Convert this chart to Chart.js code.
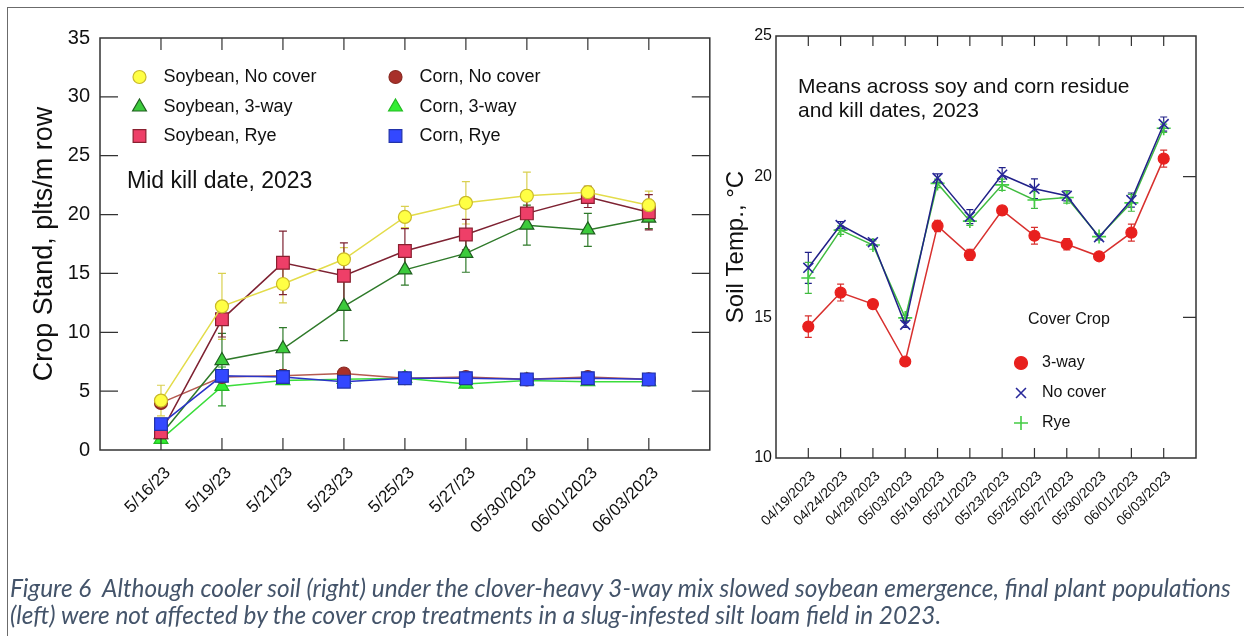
<!DOCTYPE html>
<html>
<head>
<meta charset="utf-8">
<script src="https://cdn.jsdelivr.net/npm/chart.js@4.4.1/dist/chart.umd.min.js"></script>
<style>
  html, body { margin: 0; padding: 0; background: #fff; }
  body { width: 1244px; height: 636px; position: relative; overflow: hidden; }
  #box { position: absolute; left: 7px; top: 7px; width: 1300px; height: 700px; border-left: 1px solid #6b6b6b; border-top: 1px solid #6b6b6b; }
  #leftChart { position: absolute; left: 0; top: 0; }
  #rightChart { position: absolute; left: 720px; top: 0; }
  #caption { position: absolute; left: 10px; top: 574px; color: #44546A; font-family: Lato, 'Open Sans', sans-serif; font-style: italic; font-size: 18px; line-height: 27px; white-space: nowrap; }
  #caption span { display: inline-block; }
</style>
</head>
<body>
<div id="box"></div>
<canvas id="leftChart" width="720" height="580"></canvas>
<canvas id="rightChart" width="524" height="580"></canvas>
<div id="caption">
  <span id="cap1">Figure 6&nbsp; Although cooler soil (right) under the clover-heavy 3-way mix slowed soybean emergence, final plant populations</span><br>
  <span>(left) were not affected by the cover crop treatments in a slug-infested silt loam field in 2023.</span>
</div>
<script>
// left panel: crop stand, mid kill date
const standDates = ['5/16/23', '5/19/23', '5/21/23', '5/23/23', '5/25/23', '5/27/23', '05/30/2023', '06/01/2023', '06/03/2023'];
const standTicks = [0, 5, 10, 15, 20, 25, 30, 35];

const soyNoCover = [4.2, 12.2, 14.1, 16.2, 19.8, 21.0, 21.6, 21.9, 20.8];
const soyNoCoverErr = [1.3, 2.8, 1.6, 1.0, 0.9, 1.8, 2.0, 0.5, 1.2];
const soyThreeWay = [1.3, 7.6, 8.6, 12.2, 15.3, 16.7, 19.1, 18.7, 19.7];
const soyThreeWayErr = [0.5, 2.3, 1.8, 2.9, 1.3, 1.6, 1.7, 1.4, 0.9];
const soyRye = [1.5, 11.1, 15.9, 14.8, 16.9, 18.3, 20.1, 21.5, 20.2];
const soyRyeErr = [0.5, 1.5, 2.7, 2.8, 1.9, 1.3, 1.1, 0.9, 1.5];
const cornNoCover = [4.0, 6.2, 6.3, 6.5, 6.1, 6.2, 6.0, 6.2, 6.0];
const cornNoCoverErr = [0.3, 0.3, 0.3, 0.3, 0.2, 0.3, 0.2, 0.3, 0.2];
const cornThreeWay = [0.9, 5.4, 5.9, 6.0, 6.1, 5.6, 5.9, 5.8, 5.8];
const cornThreeWayErr = [0.3, 1.65, 0.3, 0.3, 0.2, 0.3, 0.2, 0.3, 0.2];
const cornRye = [2.2, 6.3, 6.2, 5.8, 6.1, 6.1, 6.0, 6.1, 6.0];
const cornRyeErr = [0.3, 0.3, 0.3, 0.3, 0.2, 0.2, 0.2, 0.2, 0.2];

// right panel: soil temperature
const tempDates = ['04/19/2023', '04/24/2023', '04/29/2023', '05/03/2023', '05/19/2023', '05/21/2023', '05/23/2023', '05/25/2023', '05/27/2023', '05/30/2023', '06/01/2023', '06/03/2023'];
const tempTicks = [10, 15, 20, 25];

const tempThreeWay = [14.67, 15.88, 15.47, 13.43, 18.25, 17.22, 18.8, 17.9, 17.6, 17.17, 18.01, 20.64];
const tempThreeWayErr = [0.38, 0.3, 0.12, 0.1, 0.2, 0.2, 0.15, 0.3, 0.2, 0.08, 0.3, 0.3];
const tempNoCover = [16.76, 18.28, 17.67, 14.74, 19.95, 18.58, 20.07, 19.57, 19.32, 17.85, 19.17, 21.87];
const tempNoCoverErr = [0.55, 0.12, 0.1, 0.1, 0.15, 0.25, 0.25, 0.35, 0.18, 0.1, 0.25, 0.25];
const tempRye = [16.4, 18.1, 17.57, 14.98, 19.76, 18.42, 19.71, 19.17, 19.26, 17.87, 19.07, 21.72];
const tempRyeErr = [0.55, 0.15, 0.15, 0.1, 0.15, 0.15, 0.2, 0.3, 0.2, 0.1, 0.3, 0.15];

const FONT = "'Liberation Sans', Arial, sans-serif";
const toPoints = vals => vals.map((v, i) => ({ x: i, y: v }));

const errorBars = {
  id: 'errorBars',
  beforeDatasetsDraw(chart, args, opts) {
    const { ctx, scales: { x, y } } = chart;
    ctx.save();
    ctx.lineWidth = 1.2;
    chart.data.datasets.forEach(ds => {
      if (!ds.errors) return;
      ctx.strokeStyle = ds.errColor || ds.borderColor;
      ds.data.forEach((pt, j) => {
        const e = ds.errors[j];
        const px = x.getPixelForValue(pt.x);
        const top = y.getPixelForValue(pt.y + e);
        const bot = y.getPixelForValue(pt.y - e);
        ctx.beginPath();
        ctx.moveTo(px, top); ctx.lineTo(px, bot);
        ctx.moveTo(px - opts.cap, top); ctx.lineTo(px + opts.cap, top);
        ctx.moveTo(px - opts.cap, bot); ctx.lineTo(px + opts.cap, bot);
        ctx.stroke();
      });
    });
    ctx.restore();
  }
};

const frame = {
  id: 'frame',
  afterDraw(chart, args, opts) {
    const { ctx, chartArea: a, scales: { x, y } } = chart;
    ctx.save();
    ctx.strokeStyle = '#333';
    ctx.lineWidth = 1.5;
    ctx.strokeRect(a.left, a.top, a.right - a.left, a.bottom - a.top);
    ctx.lineWidth = 1.2;
    ctx.beginPath();
    x.ticks.forEach(t => {
      const px = x.getPixelForValue(t.value);
      ctx.moveTo(px, a.bottom); ctx.lineTo(px, a.bottom - opts.xLen);
      ctx.moveTo(px, a.top); ctx.lineTo(px, a.top + opts.xLen);
    });
    y.ticks.forEach(t => {
      if (t.value === y.min || t.value === y.max) return;
      const py = y.getPixelForValue(t.value);
      if (opts.leftTicks) { ctx.moveTo(a.left, py); ctx.lineTo(a.left + opts.yLen, py); }
      ctx.moveTo(a.right, py); ctx.lineTo(a.right - opts.yLen, py);
    });
    ctx.stroke();
    ctx.restore();
  }
};

const notes = {
  id: 'notes',
  afterDraw(chart, args, opts) {
    const ctx = chart.ctx;
    ctx.save();
    ctx.textBaseline = 'middle';
    ctx.textAlign = 'left';
    opts.texts.forEach(t => {
      ctx.fillStyle = '#111';
      ctx.font = t.font;
      ctx.fillText(t.text, t.x, t.y);
    });
    opts.keys.forEach(k => {
      const ds = chart.data.datasets[k.index];
      ctx.fillStyle = ds.pointBackgroundColor;
      ctx.strokeStyle = ds.pointBorderColor;
      ctx.lineWidth = ds.pointBorderWidth;
      Chart.helpers.drawPoint(ctx, { pointStyle: ds.pointStyle, radius: k.r || ds.pointRadius, rotation: 0, borderWidth: ds.pointBorderWidth }, k.x, k.y);
      ctx.fillStyle = '#111';
      ctx.font = opts.keyFont;
      ctx.fillText(ds.label, k.x + opts.gap, k.y);
    });
    ctx.restore();
  }
};

function series(label, vals, errs, line, fill, edge, style, radius, order, errColor, edgeWidth) {
  return {
    label: label,
    data: toPoints(vals),
    errors: errs,
    errColor: errColor || line,
    order: order,
    borderColor: line,
    borderWidth: 1.5,
    pointBackgroundColor: fill,
    pointBorderColor: edge,
    pointBorderWidth: edgeWidth || 1.2,
    pointStyle: style,
    pointRadius: radius,
    tension: 0
  };
}

function baseOptions(cats, yMin, yMax, yTickVals, sizes) {
  return {
    responsive: false,
    animation: false,
    layout: { padding: sizes.padding },
    plugins: { legend: { display: false }, tooltip: { enabled: false } },
    scales: {
      x: {
        type: 'linear',
        min: -1,
        max: cats.length,
        afterBuildTicks: s => { s.ticks = cats.map((c, i) => ({ value: i })); },
        afterFit: s => { s.height = sizes.xHeight; },
        grid: { display: false, drawTicks: false },
        border: { display: false },
        ticks: {
          autoSkip: false,
          minRotation: 45,
          maxRotation: 45,
          padding: sizes.xPad,
          labelOffset: sizes.xShift,
          color: '#111',
          font: { family: FONT, size: sizes.xFont },
          callback: v => cats[v] ?? ''
        }
      },
      y: {
        min: yMin,
        max: yMax,
        afterBuildTicks: s => { s.ticks = yTickVals.map(v => ({ value: v })); },
        afterFit: s => { s.width = sizes.yWidth; },
        grid: { display: false, drawTicks: false },
        border: { display: false },
        ticks: { padding: sizes.yPad, color: '#111', font: { family: FONT, size: sizes.yFont } },
        title: { display: true, text: sizes.title, color: '#111', font: { family: FONT, size: sizes.titleFont }, padding: { top: sizes.titlePad, bottom: 0 } }
      }
    }
  };
}

window.addEventListener('load', () => {
  const leftOpts = baseOptions(standDates, 0, 35, standTicks, {
    padding: { top: 38, right: 10, left: 0, bottom: 0 },
    xHeight: 130, xPad: 13, xShift: 7, xFont: 17,
    yWidth: 100, yPad: 10, yFont: 20,
    title: 'Crop Stand, plts/m row', titleFont: 27, titlePad: 28
  });
  leftOpts.plugins.errorBars = { cap: 4 };
  leftOpts.plugins.frame = { xLen: 12, yLen: 18, leftTicks: true };
  leftOpts.plugins.notes = {
    keyFont: '18px ' + FONT,
    gap: 24,
    texts: [{ text: 'Mid kill date, 2023', x: 127, y: 182, font: '23px ' + FONT }],
    keys: [
      { index: 0, x: 139.5, y: 77 },
      { index: 1, x: 139.5, y: 107 },
      { index: 2, x: 139.5, y: 136 },
      { index: 3, x: 395.5, y: 77 },
      { index: 4, x: 395.5, y: 107 },
      { index: 5, x: 395.5, y: 136 }
    ]
  };

  new Chart(document.getElementById('leftChart'), {
    type: 'line',
    data: {
      datasets: [
        series('Soybean, No cover', soyNoCover, soyNoCoverErr, '#E3DC4A', '#FFFF44', '#C9B92A', 'circle', 6.5, 0, '#D9D050'),
        series('Soybean, 3-way', soyThreeWay, soyThreeWayErr, '#2F7A2A', '#3CCB3C', '#1F5E1F', 'triangle', 8, 3),
        series('Soybean, Rye', soyRye, soyRyeErr, '#7E2232', '#EE3F68', '#8A2030', 'rect', 9, 2),
        series('Corn, No cover', cornNoCover, cornNoCoverErr, '#B55A50', '#A8302A', '#8A2A22', 'circle', 6.5, 4),
        series('Corn, 3-way', cornThreeWay, cornThreeWayErr, '#3BDD3B', '#33EE33', '#22BB22', 'triangle', 8, 5, '#2A9A2A'),
        series('Corn, Rye', cornRye, cornRyeErr, '#2A35C8', '#3348FF', '#2233AA', 'rect', 9, 1)
      ]
    },
    options: leftOpts,
    plugins: [errorBars, frame, notes]
  });

  const rightOpts = baseOptions(tempDates, 10, 25, tempTicks, {
    padding: { top: 36, right: 48, left: 0, bottom: 0 },
    xHeight: 122, xPad: 10, xShift: 5, xFont: 14,
    yWidth: 56, yPad: 4, yFont: 16,
    title: 'Soil Temp., \u00B0C', titleFont: 24, titlePad: 2
  });
  rightOpts.plugins.errorBars = { cap: 3.5 };
  rightOpts.plugins.frame = { xLen: 10, yLen: 13, leftTicks: false };
  rightOpts.plugins.notes = {
    keyFont: '16px ' + FONT,
    gap: 21,
    texts: [
      { text: 'Means across soy and corn residue', x: 78, y: 87, font: '21px ' + FONT },
      { text: 'and kill dates, 2023', x: 78, y: 111, font: '21px ' + FONT },
      { text: 'Cover Crop', x: 308, y: 320, font: '16px ' + FONT }
    ],
    keys: [
      { index: 0, x: 301, y: 363, r: 6.5 },
      { index: 1, x: 301, y: 393 },
      { index: 2, x: 301, y: 423 }
    ]
  };

  new Chart(document.getElementById('rightChart'), {
    type: 'line',
    data: {
      datasets: [
        series('3-way', tempThreeWay, tempThreeWayErr, '#D8302E', '#E8201E', '#E8201E', 'circle', 5.5, 0),
        series('No cover', tempNoCover, tempNoCoverErr, '#202088', 'rgba(0,0,0,0)', '#28289A', 'crossRot', 7, 1, null, 1.6),
        series('Rye', tempRye, tempRyeErr, '#40BB40', 'rgba(0,0,0,0)', '#44CC44', 'cross', 7, 2, null, 1.6)
      ]
    },
    options: rightOpts,
    plugins: [errorBars, frame, notes]
  });

  const cap = document.getElementById('caption');
  const w = document.getElementById('cap1').getBoundingClientRect().width;
  cap.style.fontSize = (18 * 1222 / w) + 'px';
});
</script>
</body>
</html>
